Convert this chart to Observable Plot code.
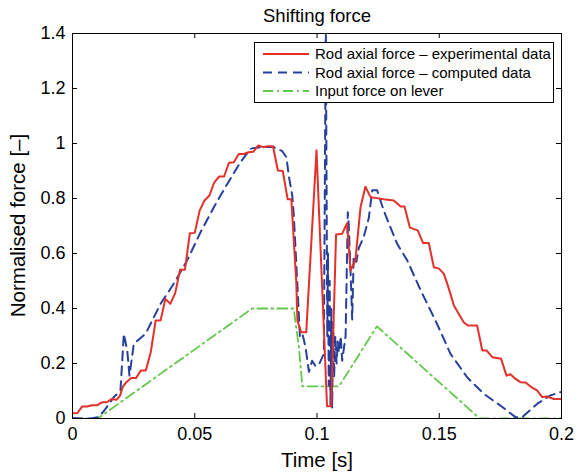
<!DOCTYPE html>
<html>
<head>
<meta charset="utf-8">
<script src="https://cdn.jsdelivr.net/npm/d3@7"></script>
<script src="https://cdn.jsdelivr.net/npm/@observablehq/plot@0.6"></script>
<style>
  html, body { margin: 0; padding: 0; background: white; }
</style>
</head>
<body>
<div id="chart"></div>
<script>
// ---- data ----
const expT = [0.0005,0.002,0.004,0.006,0.008,0.010,0.012,0.014,0.016,0.018,0.0195,0.0205,0.022,0.024,0.026,0.028,0.030,0.032,0.034,0.036,0.038,0.040,0.042,0.044,0.046,0.048,0.050,0.052,0.054,0.056,0.058,0.060,0.062,0.064,0.066,0.068,0.070,0.072,0.074,0.076,0.078,0.080,0.082,0.084,0.086,0.088,0.0895,0.0915,0.092,0.0935,0.0956,0.0998,0.1041,0.1058,0.1078,0.1103,0.1123,0.1137,0.1157,0.1178,0.1198,0.1219,0.1273,0.1314,0.1342,0.1358,0.1380,0.1412,0.1434,0.1457,0.1478,0.1499,0.1519,0.1535,0.156,0.158,0.160,0.1617,0.1655,0.1676,0.1694,0.1717,0.1753,0.1775,0.1791,0.1812,0.1832,0.1853,0.188,0.190,0.1921,0.1941,0.1969,0.1996];
const expF = [0.019,0.02,0.044,0.044,0.048,0.048,0.059,0.059,0.071,0.068,0.084,0.114,0.132,0.147,0.147,0.175,0.175,0.241,0.356,0.356,0.435,0.417,0.456,0.541,0.541,0.674,0.675,0.756,0.793,0.811,0.859,0.88,0.88,0.93,0.932,0.962,0.962,0.968,0.97,0.993,0.987,0.99,0.99,0.902,0.90,0.797,0.797,0.50,0.356,0.314,0.314,0.975,0.045,0.045,0.669,0.672,0.71,0.538,0.575,0.768,0.843,0.805,0.797,0.793,0.771,0.771,0.694,0.684,0.638,0.638,0.55,0.545,0.526,0.484,0.411,0.38,0.35,0.338,0.338,0.247,0.247,0.223,0.217,0.156,0.161,0.144,0.132,0.131,0.112,0.102,0.078,0.08,0.071,0.071];

const compT = [0.0005,0.003,0.0074,0.0108,0.0135,0.0169,0.0196,0.021,0.0224,0.0233,0.0251,0.0299,0.036,0.0414,0.0469,0.0524,0.0578,0.0633,0.0687,0.0728,0.0769,0.0823,0.0858,0.0875,0.0885,0.0899,0.0905,0.0919,0.093,0.094,0.0953,0.0967,0.098,0.0994,0.1010,0.1028,0.1036,0.1042,0.1045,0.1048,0.1052,0.1055,0.1059,0.1062,0.1066,0.1070,0.1075,0.1080,0.1085,0.1090,0.1097,0.1103,0.1117,0.1126,0.1130,0.1137,0.1144,0.1150,0.1161,0.1171,0.1191,0.1212,0.1226,0.1246,0.1273,0.1300,0.1328,0.1369,0.1423,0.1491,0.1546,0.1614,0.1682,0.175,0.1812,0.184,0.190,0.1955,0.1996];
const compF = [0.002,0,0,0.005,0.035,0.078,0.10,0.308,0.247,0.156,0.272,0.308,0.417,0.49,0.575,0.678,0.768,0.853,0.932,0.981,0.987,0.987,0.972,0.95,0.88,0.81,0.74,0.50,0.30,0.31,0.26,0.17,0.21,0.19,0.2,0.235,1.45,0.3,0.6,0.12,0.5,0.05,0.4,0.04,0.35,0.15,0.3,0.2,0.28,0.24,0.30,0.21,0.30,0.75,0.70,0.54,0.36,0.59,0.57,0.62,0.66,0.73,0.83,0.83,0.756,0.696,0.635,0.575,0.468,0.344,0.235,0.15,0.09,0.047,0.005,0.005,0.053,0.084,0.096];

const inputT = [0,0.0103,0.0735,0.0905,0.0912,0.0926,0.094,0.109,0.1245,0.1665,0.2];
const inputF = [0,0,0.40,0.40,0.35,0.26,0.117,0.117,0.335,0,0];

const xTicks = [0,0.05,0.1,0.15,0.2];
const xTickLabels = ["0","0.05","0.1","0.15","0.2"];
const yTicks = [0,0.2,0.4,0.6,0.8,1,1.2,1.4];
const yTickLabels = ["0","0.2","0.4","0.6","0.8","1","1.2","1.4"];

const seriesNames = ["Rod axial force \u2013 experimental data","Rod axial force \u2013 computed data","Input force on lever"];
const titleText = "Shifting force";
const xLabel = "Time [s]";
const yLabel = "Normalised force [\u2013]";

// ---- styles ----
const RED = "#e3302a", BLUE = "#27409b", GREEN = "#62c74a";
const FONT = "'Liberation Sans', Arial, Helvetica, sans-serif";
const styles = [
  {stroke: RED, strokeWidth: 2, strokeDasharray: null},
  {stroke: BLUE, strokeWidth: 2, strokeDasharray: "9,6"},
  {stroke: GREEN, strokeWidth: 1.8, strokeDasharray: "10,4,2,4"}
];

const toRows = (T, F) => T.map((t, i) => ({t, f: F[i]}));
const expRows = toRows(expT, expF);
const compRows = toRows(compT, compF);
const inputRows = toRows(inputT, inputF);

const W = 580, H = 473, ML = 72, MR = 19, MT = 33, MB = 55;
const fw = W - ML - MR, fh = H - MT - MB, tick = 5;

const plot = Plot.plot({
  width: W, height: H,
  marginLeft: ML, marginRight: MR, marginTop: MT, marginBottom: MB,
  x: {domain: [0, 0.2]},
  y: {domain: [0, 1.4]},
  style: {fontFamily: FONT, background: "white", color: "black", overflow: "visible"},
  marks: [
    Plot.line(inputRows, {x: "t", y: "f", ...styles[2], clip: true}),
    Plot.line(compRows, {x: "t", y: "f", ...styles[1], clip: true}),
    Plot.line(expRows, {x: "t", y: "f", ...styles[0], clip: true}),
    Plot.ruleX(xTicks, {x: d => d, insetTop: fh - tick, stroke: "black"}),
    Plot.ruleX(xTicks, {x: d => d, insetBottom: fh - tick, stroke: "black"}),
    Plot.ruleY(yTicks, {y: d => d, insetRight: fw - tick, stroke: "black"}),
    Plot.ruleY(yTicks, {y: d => d, insetLeft: fw - tick, stroke: "black"}),
    Plot.frame({stroke: "black", strokeWidth: 1}),
    Plot.axisX(xTicks, {anchor: "bottom", tickSize: 0, tickPadding: 9, fontSize: 18, label: null,
      tickFormat: d => xTickLabels[xTicks.indexOf(d)]}),
    Plot.axisY(yTicks, {anchor: "left", tickSize: 0, tickPadding: 7, fontSize: 18, label: null,
      tickFormat: d => yTickLabels[yTicks.indexOf(d)]}),
    Plot.text([titleText], {frameAnchor: "top", dy: -12, lineAnchor: "bottom", fontSize: 18.5}),
    Plot.text([xLabel], {frameAnchor: "bottom", dy: 48, lineAnchor: "bottom", fontSize: 20.5})
  ]
});

const svg = d3.select(plot);

// ---- y axis label (rotated, centred on the frame) ----
svg.append("text")
  .attr("transform", `translate(${ML - 47},${MT + fh / 2}) rotate(-90)`)
  .attr("text-anchor", "middle")
  .attr("font-family", FONT).attr("font-size", 20.5).attr("fill", "black")
  .text(yLabel);

// ---- legend (inside the axes, top right) ----
const lg = svg.append("g").attr("font-family", FONT).attr("font-size", 15).attr("text-anchor", "start");
lg.append("rect").attr("x", 254.5).attr("y", 42.5).attr("width", 299).attr("height", 60)
  .attr("fill", "white").attr("stroke", "black").attr("stroke-width", 1);
seriesNames.forEach((name, i) => {
  const y = 54 + i * 18.5;
  const s = styles[i];
  lg.append("line").attr("x1", 263).attr("x2", 309).attr("y1", y).attr("y2", y)
    .attr("stroke", s.stroke).attr("stroke-width", s.strokeWidth)
    .attr("stroke-dasharray", s.strokeDasharray);
  lg.append("text").attr("x", 315).attr("y", y + 5).attr("fill", "black")
    .attr("text-anchor", "start").text(name);
});

document.getElementById("chart").appendChild(plot);
</script>
</body>
</html>
